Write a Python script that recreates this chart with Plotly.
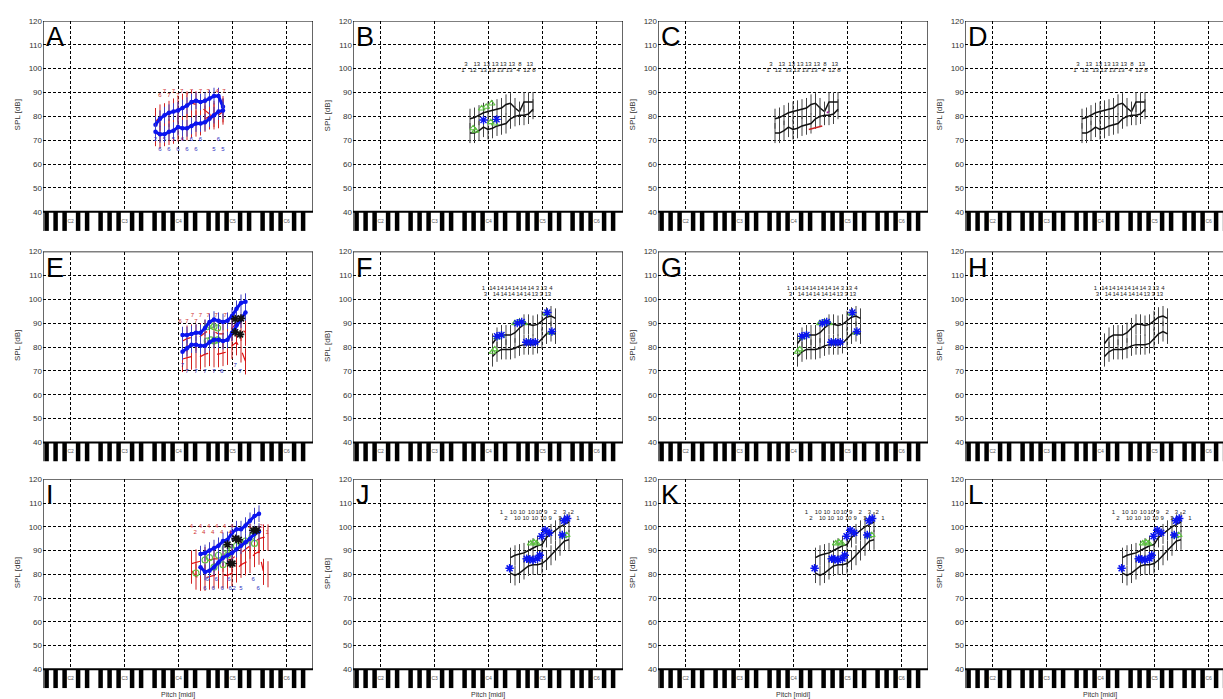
import plotly.graph_objects as go

W, H = 1223, 699
COLX = [43, 353, 658, 965]
ROWS = [(17, 228.2), (249, 460.2), (478, 688.2)]
PXS = 4.5
XMIN = 30
YMIN, YMAX = 32, 120

# ---------------- data ----------------
# Row 1 (A-D)
A_x = list(range(55, 71))
A_blue_up = [76.5, 79, 80.5, 81.5, 82, 82.5, 83.5, 84.5, 86, 86.5, 86, 86.5, 87.5, 88.5, 88.5, 84]
A_blue_lo = [73.5, 72.5, 72.5, 73.5, 74, 75.5, 75, 75, 76, 77, 77, 77.5, 79, 80.5, 82, 82.5]
A_red_up = [78, 79.5, 80, 81, 82, 83, 84, 85, 85.5, 85, 84, 82.5, 81, 80, 80.5, 82]
A_red_lo = [73, 72, 73, 73.5, 74, 75, 75.5, 75.5, 76.5, 77, 77.5, 79, 80, 81, 82, 83]
A_red_c1_x = [57, 59, 60.8, 63, 65, 66.7, 68.7, 70.2]
A_red_c1 = ['7', '7', '7', '7', '7', '7', '4', '7']
A_red_c2_x = [56, 58, 60, 62]
A_red_c2 = ['6', '7', '7', '7']
A_blu_c1_x = [55, 57, 59, 61, 63, 65, 69]
A_blu_c1 = ['2', '5', '5', '6', '6', '6', '6']
A_blu_c2_x = [56, 58, 60, 62, 64, 68, 70]
A_blu_c2 = ['6', '6', '6', '6', '6', '5', '5']

B_x = list(range(56, 71))
B_up = [79, 79.5, 80.5, 81.5, 82, 82.5, 83, 83.5, 85, 85.5, 83.5, 82, 86, 86, 86]
B_lo = [73, 73, 74, 75.5, 74.5, 75, 76, 76.5, 77, 79, 80, 80.5, 80.5, 81, 83]
B_c1_x = [55.1, 57.5, 59.7, 61.6, 63.4, 65.3, 67.1, 69.3]
B_c1 = ['3', '13', '13', '13', '13', '13', '8', '13']
B_c2_x = [54.4, 56.7, 59, 60.8, 62.7, 64.7, 66.7, 68.6, 70.2]
B_c2 = ['1', '12', '13', '13', '13', '13', '4', '12', '8']
B_grn_x = [56.7, 57.2, 58.6, 59.6, 60.8, 60.6, 61.5]
B_grn_y = [75, 74, 83.3, 84, 85.4, 77.6, 77]
B_blu_x = [59, 61.9]
B_blu_y = [78.5, 78.75]
C_red_x = [63.5, 64.5, 65.5, 66.5]
C_red_y = [74.5, 75, 75.5, 76]
C_pur_x = [67.5, 68]
C_pur_y = [81.5, 82]

# Row 2 (E-H)
E_x = list(range(61, 76))
E_blue_up = [85, 85, 85.5, 86, 86, 88, 90.5, 91.5, 91, 90.5, 91, 93, 96, 98.5, 99]
E_blue_lo = [78, 79.5, 81, 81, 80.5, 80.5, 82, 83, 83, 82.5, 83, 86, 89, 91.5, 94.5]
E_red_up = [82.5, 83.5, 84, 84, 84.5, 86, 87, 86.5, 85.5, 85.5, 86, 88, 90, 88, 86]
E_red_lo = [75, 75.5, 76, 76.5, 76, 77, 77.5, 77, 77, 77.5, 78, 80.5, 82, 79, 74]
E_red_c1_x = [63.2, 65, 66.7, 68.5, 70.5]
E_red_c1 = ['7', '7', '7', '7', '7']
E_red_c2_x = [60.5, 62, 64]
E_red_c2 = ['6', '7', '7']
E_blu_c1_x = [62, 64, 66, 68, 69.7, 73.8]
E_blu_c1 = ['7', '7', '7', '7', '6', '7']
E_blu_c2_x = [61, 72.7]
E_blu_c2 = ['7', '7']
E_grn_x = [66.5, 67.2, 68, 68.8, 66.5, 67.3, 68, 68.8]
E_grn_y = [88.5, 89, 88.5, 88, 82.5, 83, 82.5, 83]
E_blk_x = [72.7, 72.7, 73.8, 74]
E_blk_y = [91.8, 86.2, 85.3, 92]

F_x = list(range(61, 76))
F_up = [81.5, 84, 85, 85, 85, 86, 88, 89.5, 89.5, 89, 89.5, 91, 92.5, 93, 92]
F_lo = [76, 78, 79, 79, 79, 79.5, 80.5, 81, 81, 81, 81.5, 83.5, 85.5, 86.5, 85.5]
F_c1_x = [59, 61, 62.7, 64.4, 66.1, 67.8, 69.5, 71, 72.4, 74]
F_c1 = ['1', '14', '14', '14', '14', '14', '14', '3', '13', '4']
F_c2_x = [59.4, 61.8, 63.5, 65.2, 67, 68.7, 70.4, 71.8, 73.3]
F_c2 = ['3', '14', '14', '14', '14', '14', '13', '3', '13']
F_grn_x = [61, 61.5, 62, 63, 66, 67, 68, 69, 73, 74]
F_grn_y = [78, 79, 84, 85, 90, 90.5, 90, 82, 94, 86]
F_blu_x = [62, 63, 66.5, 67.5, 68.5, 69.5, 73.2, 74.2, 70.5]
F_blu_y = [84.5, 85, 90, 90.5, 82, 82, 94.5, 86.5, 82]

# Row 3 (I-L)
I_x = list(range(65, 79))
I_blue_up = [88.5, 89, 90, 91, 92, 94, 94.5, 97.5, 99, 99, 100.5, 102.5, 104.5, 105.5]
I_blue_lo = [83, 81, 81.5, 83, 85, 87, 88, 89, 90.5, 92, 93.5, 95, 97, 98]
I_red_x = list(range(63, 81))
I_red_up = [84.5, 85, 85.5, 86, 86, 86.5, 86.5, 86.5, 86, 86.5, 88, 89, 90.5, 92, 93.5, 95, 95.5, 95.5]
I_red_lo = [81.5, 79, 78.5, 78.5, 79, 79.5, 79.5, 79.5, 79.5, 80.5, 82, 84, 85, 86, 88.5, 89.5, 81, 80]
I_red_c1_x = [63, 65, 66.8, 68.6, 70.3, 72, 76, 78.5]
I_red_c1 = ['4', '4', '4', '4', '4', '4', '2', '2']
I_red_c2_x = [63.8, 65.7, 67.7, 69.7, 71.6, 79.8]
I_red_c2 = ['2', '4', '4', '4', '4', '1']
I_blu_c1_x = [66.5, 68.5, 71.3, 76.7]
I_blu_c1 = ['6', '6', '6', '6']
I_blu_c2_x = [66, 67.8, 69.8, 71.6, 72.5, 74, 77.8]
I_blu_c2 = ['6', '6', '6', '6', '2', '5', '6']
I_grn_x = [64, 66, 67, 68, 69, 70, 70.5, 71, 72, 73, 74, 75, 76.5, 77]
I_grn_y = [80.5, 86, 87, 83, 88, 84, 91, 88, 90, 92, 93, 94, 96, 93]
I_blk_x = [71, 71.6, 72.1, 72.8, 73.5, 76.7, 77.5]
I_blk_y = [92.5, 84.5, 84.5, 95, 94.5, 98.5, 98.5]

J_x = list(range(65, 79))
J_up = [87, 88, 88.5, 89, 90, 91, 92, 92.5, 95.5, 97, 98.5, 100, 101, 102]
J_lo = [80.5, 79.5, 80.5, 82, 83.5, 84, 84, 84.5, 86, 88, 90, 92, 94, 94.5]
J_c1_x = [63, 65.6, 67.5, 69.6, 71.3, 72.8, 74.9, 77, 78.7]
J_c1 = ['1', '10', '10', '10', '10', '9', '2', '3', '2']
J_c2_x = [64, 66.5, 68.4, 70.4, 72.3, 73.8, 76, 80]
J_c2 = ['2', '10', '10', '10', '10', '9', '3', '1']
J_blu_x = [64.8, 68.6, 69.3, 70, 71, 71.5, 71.9, 72.7, 73.6, 76.5, 77.6, 76.9]
J_blu_y = [82.5, 86.5, 86.3, 86, 86.6, 88, 96, 98.5, 97.5, 96.5, 103.5, 102.5]
J_grn_x = [69.5, 70.2, 70.8, 77.5, 76.8]
J_grn_y = [93, 93.5, 93, 96.5, 96]

KEY_NAMES = ['C2', 'C3', 'C4', 'C5', 'C6']
KEY_MIDI = [36, 48, 60, 72, 84]
Y_TICKS = [40, 50, 60, 70, 80, 90, 100, 110, 120]
LETTERS = ['A', 'B', 'C', 'D', 'E', 'F', 'G', 'H', 'I', 'J', 'K', 'L']

BLUE = '#0a14f0'
RED = '#e01010'
GREEN = '#5cc040'
BLK = '#111111'

fig = go.Figure()
shapes = []
annotations = []


def refs(k):
    return ('x' if k == 1 else 'x%d' % k), ('y' if k == 1 else 'y%d' % k)


def xmax_of(c):
    return 90 if c < 3 else XMIN + (W - COLX[3]) / PXS


def add_line(k, x, y, color, width, dash='solid', err=None, errcolor=None, marker=None):
    xr, yr = refs(k)
    kw = dict(x=x, y=y, mode='lines', xaxis=xr, yaxis=yr, showlegend=False, hoverinfo='skip',
              line=dict(color=color, width=width, dash=dash))
    if marker:
        kw['mode'] = 'lines+markers'
        kw['marker'] = marker
    if err is not None:
        kw['error_y'] = dict(type='constant', value=err, color=errcolor, thickness=1, width=0)
    fig.add_trace(go.Scatter(**kw))


def add_text(k, x, y, txt, color, size=6):
    xr, yr = refs(k)
    fig.add_trace(go.Scatter(x=x, y=[y] * len(x), text=txt, mode='text', xaxis=xr, yaxis=yr,
                             textfont=dict(size=size, color=color, family='Liberation Sans'),
                             showlegend=False, hoverinfo='skip'))


def add_marks(k, x, y, symbol, color, size=7, lw=1.2):
    xr, yr = refs(k)
    fig.add_trace(go.Scatter(x=x, y=y, mode='markers', xaxis=xr, yaxis=yr, showlegend=False,
                             hoverinfo='skip',
                             marker=dict(symbol=symbol, size=size, color=color,
                                         line=dict(color=color, width=lw))))


def combined(k, x, up, lo, rx, rup, rlo, rc1x, rc1, rc1y, rc2x, rc2, rc2y,
             bc1x, bc1, bc1y, bc2x, bc2, bc2y, gx, gy, kx, ky):
    add_line(k, rx, rup, RED, 1.2, 'dash', err=5.5, errcolor='#d02020')
    add_line(k, rx, rlo, RED, 1.2, 'dash', err=5.5, errcolor='#d02020')
    add_marks(k, gx, gy, 'circle-open', GREEN, 6, 1.1)
    add_line(k, x, up, BLUE, 3.0, err=3.5, errcolor='#4040c0',
             marker=dict(size=4.5, color=BLUE))
    add_line(k, x, lo, BLUE, 3.0, err=3.5, errcolor='#4040c0',
             marker=dict(size=4.5, color=BLUE))
    add_marks(k, kx, ky, 'asterisk-open', BLK, 7, 1.6)
    add_text(k, rc1x, rc1y, rc1, '#d03030')
    add_text(k, rc2x, rc2y, rc2, '#d03030')
    add_text(k, bc1x, bc1y, bc1, '#3030c0')
    add_text(k, bc2x, bc2y, bc2, '#3030c0')


def blackpanel(k, x, up, lo, c1x, c1, c1y, c2x, c2, c2y):
    add_line(k, x, up, BLK, 1.5, err=4.2, errcolor='#444444')
    add_line(k, x, lo, BLK, 1.5, err=4.2, errcolor='#444444')
    add_text(k, c1x, c1y, c1, '#222222')
    add_text(k, c2x, c2y, c2, '#222222')


# Row 1
combined(1, A_x, A_blue_up, A_blue_lo, A_x, A_red_up, A_red_lo,
         A_red_c1_x, A_red_c1, 90.3, A_red_c2_x, A_red_c2, 88.8,
         A_blu_c1_x, A_blu_c1, 70.2, A_blu_c2_x, A_blu_c2, 66.0, [], [], [], [])
blackpanel(2, B_x, B_up, B_lo, B_c1_x, B_c1, 101.7, B_c2_x, B_c2, 99.3)
add_marks(2, B_grn_x, B_grn_y, 'triangle-up-open', GREEN, 6, 1.1)
add_marks(2, B_blu_x, B_blu_y, 'asterisk-open', BLUE, 7, 1.4)
blackpanel(3, B_x, B_up, B_lo, B_c1_x, B_c1, 101.7, B_c2_x, B_c2, 99.3)
add_line(3, C_red_x, C_red_y, '#cc2222', 1.5)
add_line(3, C_pur_x, C_pur_y, '#992299', 1.5)
blackpanel(4, B_x, B_up, B_lo, B_c1_x, B_c1, 101.7, B_c2_x, B_c2, 99.3)

# Row 2
combined(5, E_x, E_blue_up, E_blue_lo, E_x, E_red_up, E_red_lo,
         E_red_c1_x, E_red_c1, 93.2, E_red_c2_x, E_red_c2, 90.8,
         E_blu_c1_x, E_blu_c1, 69.6, E_blu_c2_x, E_blu_c2, 72.4,
         E_grn_x, E_grn_y, E_blk_x, E_blk_y)
for kk in (6, 7, 8):
    blackpanel(kk, F_x, F_up, F_lo, F_c1_x, F_c1, 104.6, F_c2_x, F_c2, 102.2)
for kk in (6, 7):
    add_marks(kk, F_grn_x, F_grn_y, 'triangle-up-open', GREEN, 6, 1.1)
    add_marks(kk, F_blu_x, F_blu_y, 'asterisk-open', BLUE, 7, 1.4)

# Row 3
combined(9, I_x, I_blue_up, I_blue_lo, I_red_x, I_red_up, I_red_lo,
         I_red_c1_x, I_red_c1, 100.3, I_red_c2_x, I_red_c2, 97.6,
         I_blu_c1_x, I_blu_c1, 78.0, I_blu_c2_x, I_blu_c2, 74.1,
         I_grn_x, I_grn_y, I_blk_x, I_blk_y)
for kk in (10, 11, 12):
    blackpanel(kk, J_x, J_up, J_lo, J_c1_x, J_c1, 105.9, J_c2_x, J_c2, 103.4)
    add_marks(kk, J_grn_x, J_grn_y, 'triangle-up-open', GREEN, 6, 1.1)
    add_marks(kk, J_blu_x, J_blu_y, 'asterisk-open', BLUE, 7, 1.5)

# ---------------- axes, keyboard, frame ----------------
layout_axes = {}
for k in range(1, 13):
    r, c = (k - 1) // 4, (k - 1) % 4
    x0 = COLX[c]
    x1 = min(x0 + 270, W)
    top, bot = ROWS[r]
    xm = xmax_of(c)
    xr, yr = refs(k)
    xname = 'xaxis' if k == 1 else 'xaxis%d' % k
    yname = 'yaxis' if k == 1 else 'yaxis%d' % k
    layout_axes[xname] = dict(domain=[x0 / W, x1 / W], range=[XMIN, xm], anchor=yr,
                              tickvals=KEY_MIDI, showticklabels=False, ticks='',
                              showgrid=True, gridcolor='#000000', gridwidth=1, griddash='3px,2px',
                              zeroline=False, showline=False)
    layout_axes[yname] = dict(domain=[1 - bot / H, 1 - top / H], range=[YMIN, YMAX], anchor=xr,
                              tickvals=Y_TICKS, ticks='', showgrid=True, gridcolor='#000000',
                              gridwidth=1, griddash='3px,2px', zeroline=False, showline=False,
                              tickfont=dict(size=8, color='#333333', family='Liberation Sans'))
    # keyboard background
    shapes.append(dict(type='rect', xref=xr, yref=yr, x0=XMIN, x1=xm, y0=YMIN, y1=40,
                       fillcolor='white', line=dict(width=0), layer='between'))
    for m in range(XMIN - 1, 92):
        if m % 12 in (1, 3, 6, 8, 10):
            a, b = max(m + 0.3, XMIN), min(m + 1.3, xm)
            if b > a:
                shapes.append(dict(type='rect', xref=xr, yref=yr, x0=a, x1=b, y0=YMIN, y1=40,
                                   fillcolor='black', line=dict(width=0), layer='between'))
    # frame
    shapes.append(dict(type='line', xref=xr, yref=yr, x0=XMIN, x1=xm, y0=40, y1=40,
                       line=dict(color='black', width=2), layer='between'))
    shapes.append(dict(type='line', xref=xr, yref=yr, x0=XMIN, x1=xm, y0=YMAX, y1=YMAX,
                       line=dict(color='black', width=1.2), layer='between'))
    shapes.append(dict(type='line', xref=xr, yref=yr, x0=XMIN, x1=XMIN, y0=YMIN, y1=YMAX,
                       line=dict(color='black', width=1.2), layer='between'))
    if c < 3:
        shapes.append(dict(type='line', xref=xr, yref=yr, x0=xm, x1=xm, y0=40, y1=YMAX,
                           line=dict(color='black', width=1.2), layer='between'))
    # key labels
    fig.add_trace(go.Scatter(x=[m + 0.15 for m in KEY_MIDI], y=[36] * 5, text=KEY_NAMES,
                             mode='text', xaxis=xr, yaxis=yr, showlegend=False, hoverinfo='skip',
                             textfont=dict(size=5, color='#555555', family='Liberation Sans')))
    # panel letter
    annotations.append(dict(text=LETTERS[k - 1], xref='paper', yref='paper',
                            x=(x0 + 1) / W, y=1 - (top - 1) / H, xanchor='left', yanchor='top',
                            showarrow=False, font=dict(size=27, color='black', family='Liberation Sans')))
    # y label
    annotations.append(dict(text='SPL [dB]', xref='paper', yref='paper',
                            x=(x0 - 26) / W, y=1 - (top + (bot - top) * 0.45) / H,
                            xanchor='center', yanchor='middle', textangle=-90, showarrow=False,
                            font=dict(size=8, color='#333333', family='Liberation Sans')))
    if r == 2:
        annotations.append(dict(text='Pitch [midi]', xref='paper', yref='paper',
                                x=(x0 + 135) / W, y=1 - 689 / H, xanchor='center', yanchor='top',
                                showarrow=False,
                                font=dict(size=7, color='#333333', family='Liberation Sans')))

fig.update_layout(width=W, height=H, margin=dict(l=0, r=0, t=0, b=0),
                  paper_bgcolor='white', plot_bgcolor='white',
                  shapes=shapes, annotations=annotations, **layout_axes)
fig.write_html('out.html')
